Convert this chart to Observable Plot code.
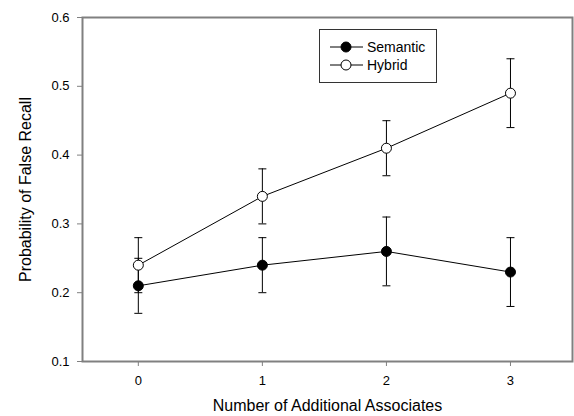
<!DOCTYPE html>
<html><head><meta charset="utf-8">
<script src="https://cdn.jsdelivr.net/npm/d3@7"></script>
<script src="https://cdn.jsdelivr.net/npm/@observablehq/plot@0.6"></script>
<style>
body{margin:0;background:#fff;font-family:"Liberation Sans",Arial,sans-serif;}
#wrap{position:relative;width:574px;height:416px;}
#legend{position:absolute;left:319px;top:29px;width:116px;height:52px;border:1px solid #333;background:#fff;box-sizing:content-box;}
</style></head>
<body><div id="wrap"><div id="legend"></div></div>
<script>
const associates = [0, 1, 2, 3];
const semanticMean = [0.21, 0.24, 0.26, 0.23];
const semanticErr = [0.04, 0.04, 0.05, 0.05];
const hybridMean = [0.24, 0.34, 0.41, 0.49];
const hybridErr = [0.04, 0.04, 0.04, 0.05];
const yTicks = [0.1, 0.2, 0.3, 0.4, 0.5, 0.6];
const seriesNames = ["Semantic", "Hybrid"];

const data = [];
associates.forEach((x, i) => {
  data.push({series: "Semantic", x, y: semanticMean[i], lo: semanticMean[i] - semanticErr[i], hi: semanticMean[i] + semanticErr[i]});
});
associates.forEach((x, i) => {
  data.push({series: "Hybrid", x, y: hybridMean[i], lo: hybridMean[i] - hybridErr[i], hi: hybridMean[i] + hybridErr[i]});
});
const fills = {Semantic: "black", Hybrid: "white"};
const cap = {draw(ctx, size) { ctx.moveTo(-4, 0); ctx.lineTo(4, 0); }};

const chart = Plot.plot({
  width: 574, height: 416,
  marginLeft: 82, marginRight: 2, marginTop: 17, marginBottom: 55,
  style: {fontFamily: "Liberation Sans, Arial, sans-serif", fontSize: "13px", background: "white"},
  x: {domain: [-0.45, 3.5]},
  y: {domain: [0.1, 0.6]},
  marks: [
    Plot.frame({stroke: "#808080", strokeWidth: 2}),
    Plot.axisY({ticks: yTicks, tickFormat: d3.format(".1f"), tickSize: 5, stroke: "#808080", fill: "black", label: null, tickPadding: 8, fontSize: 13}),
    Plot.axisX({ticks: associates, tickFormat: d3.format("d"), tickSize: 5, stroke: "#808080", fill: "black", label: null, tickPadding: 9, fontSize: 13}),
    Plot.text(["Probability of False Recall"], {frameAnchor: "left", dx: -57, rotate: -90, textAnchor: "middle", text: d => d, fontSize: 16}),
    Plot.text(["Number of Additional Associates"], {frameAnchor: "bottom", dy: 49, textAnchor: "middle", text: d => d, fontSize: 16}),
    Plot.ruleX(data, {x: "x", y1: "lo", y2: "hi", stroke: "black", strokeWidth: 1}),
    Plot.dot(data, {x: "x", y: "lo", symbol: cap, stroke: "black", strokeWidth: 1}),
    Plot.dot(data, {x: "x", y: "hi", symbol: cap, stroke: "black", strokeWidth: 1}),
    Plot.line(data, {x: "x", y: "y", z: "series", stroke: "black", strokeWidth: 1}),
    Plot.dot(data, {x: "x", y: "y", r: 5, fill: d => fills[d.series], stroke: "black", strokeWidth: 1})
  ]
});
document.getElementById("wrap").prepend(chart);
chart.style.position = "absolute"; chart.style.left = "0"; chart.style.top = "0";

// legend
const ns = "http://www.w3.org/2000/svg";
const lg = document.createElementNS(ns, "svg");
lg.setAttribute("width", 116); lg.setAttribute("height", 52);
seriesNames.forEach((name, i) => {
  const cy = 17 + i * 18;
  const l = document.createElementNS(ns, "line");
  l.setAttribute("x1", 10); l.setAttribute("x2", 43); l.setAttribute("y1", cy); l.setAttribute("y2", cy);
  l.setAttribute("stroke", "black");
  lg.appendChild(l);
  const c = document.createElementNS(ns, "circle");
  c.setAttribute("cx", 26); c.setAttribute("cy", cy); c.setAttribute("r", 5);
  c.setAttribute("fill", fills[name]); c.setAttribute("stroke", "black");
  lg.appendChild(c);
  const t = document.createElementNS(ns, "text");
  t.setAttribute("x", 47); t.setAttribute("y", cy); t.setAttribute("dy", "0.35em");
  t.setAttribute("font-size", "14"); t.setAttribute("font-family", "Liberation Sans, Arial, sans-serif");
  t.textContent = name;
  lg.appendChild(t);
});
document.getElementById("legend").appendChild(lg);
</script></body></html>
